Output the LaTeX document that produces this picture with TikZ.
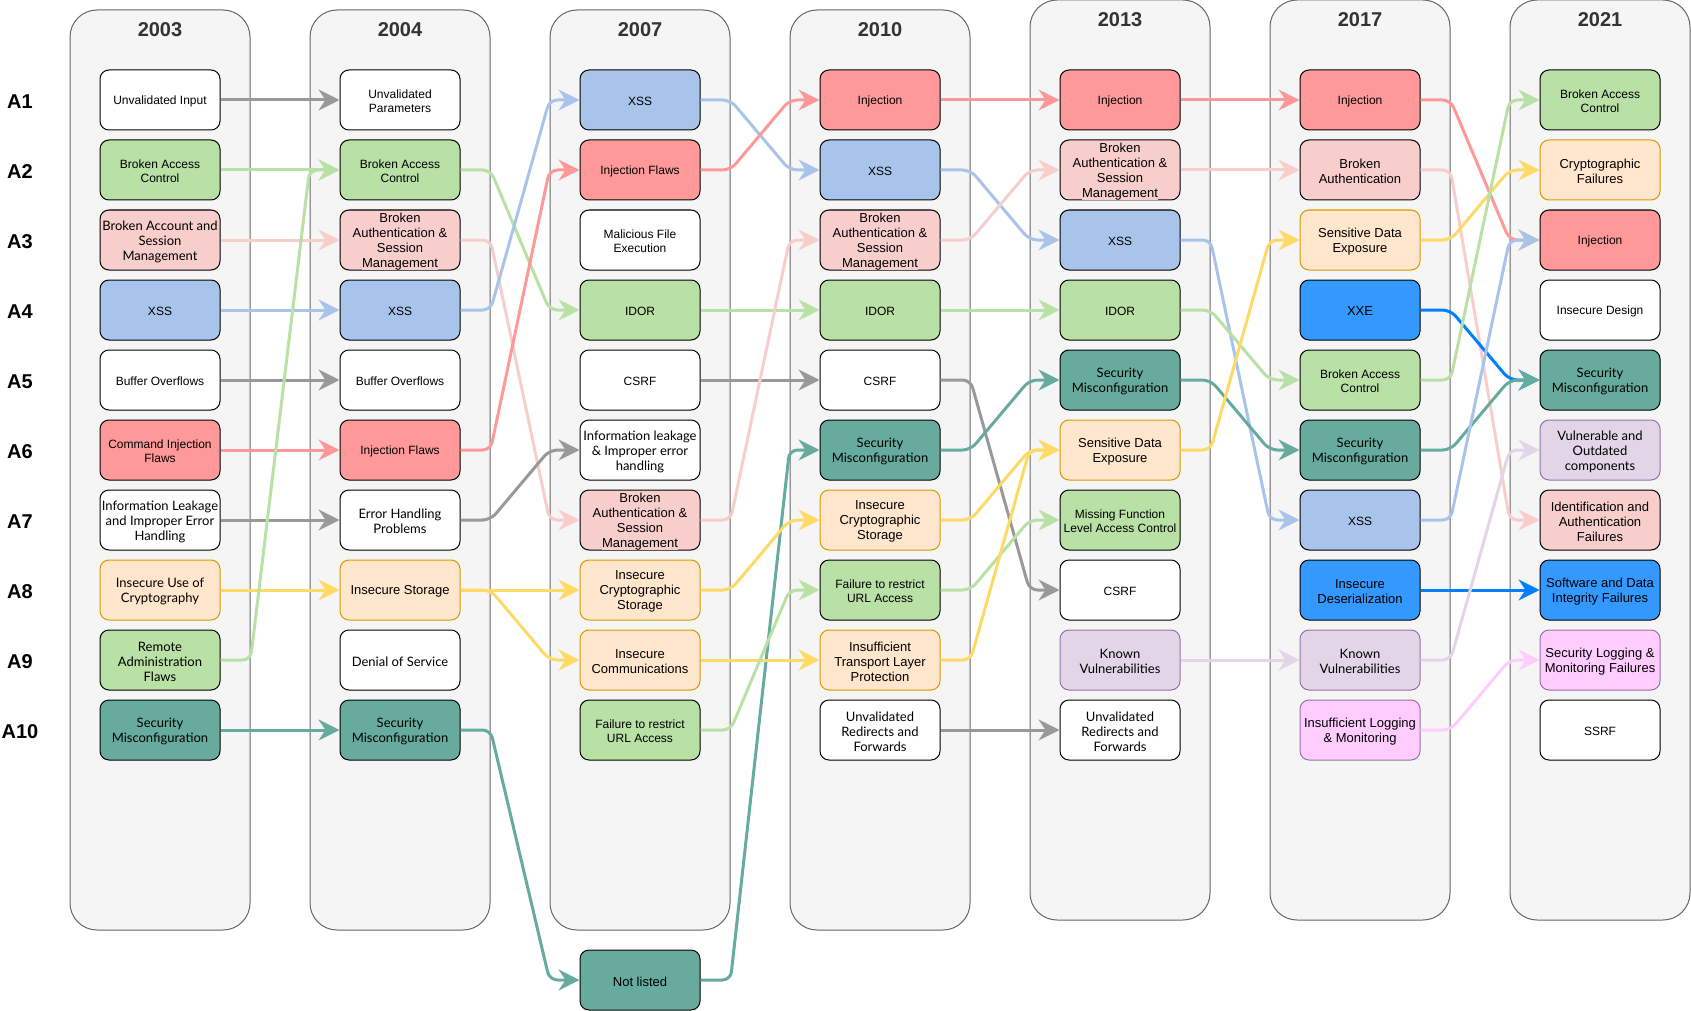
\documentclass[tikz,border=0pt]{standalone}
\usepackage{fontspec}
\setmainfont{Liberation Sans}
\newfontfamily\robf{Lato}
\usetikzlibrary{arrows.meta}
\definecolor{pf}{HTML}{F5F5F5}
\definecolor{pd}{HTML}{666666}
\definecolor{c333}{HTML}{333333}
\definecolor{c222}{HTML}{1E1E1E}
\definecolor{cG}{HTML}{B9E0A5}
\definecolor{cP}{HTML}{F8CECC}
\definecolor{cR}{HTML}{FF9999}
\definecolor{cB}{HTML}{A9C4EB}
\definecolor{cO}{HTML}{FFE6CC}
\definecolor{cOs}{HTML}{D79B00}
\definecolor{cT}{HTML}{67AB9F}
\definecolor{cX}{HTML}{3399FF}
\definecolor{cV}{HTML}{E1D5E7}
\definecolor{cVs}{HTML}{9673A6}
\definecolor{cM}{HTML}{FFCCFF}
\definecolor{lGray}{HTML}{999999}
\definecolor{lYel}{HTML}{FFD966}
\definecolor{lXB}{HTML}{007FFF}
\setlength{\fboxsep}{0.5pt}
\newcommand\fa{\fontsize{12}{14.4}\selectfont}
\newcommand\fb{\fontsize{13}{15}\selectfont}
\newcommand\fr{\robf\fontsize{13}{15}\selectfont\color{c222}}
\newcommand\bx[5]{\node[tbx,#2] (#1) at (#3) {}; \node[txt,font=#4] (#1t) at ([yshift=-1.5pt]#1.center) {#5};}
\newcommand\lk[3]{\draw[conn,#1] (#2.east) -- ++(30,0) -- ([xshift=-30pt]#3.west) -- (#3.west);}
\newcommand\mgmt{\colorbox{cP}{Management}}
\tikzset{
  tbx/.style={draw=black, line width=1pt, rounded corners=9pt, minimum width=120pt, minimum height=60pt, inner sep=0pt, fill=white},
  gbx/.style={fill=cG}, pbx/.style={fill=cP}, rbx/.style={fill=cR}, bbx/.style={fill=cB},
  obx/.style={fill=cO, draw=cOs}, tlbx/.style={fill=cT}, xbx/.style={fill=cX},
  purbx/.style={fill=cV, draw=cVs}, mbx/.style={fill=cM, draw=cVs},
  txt/.style={align=center, inner sep=0pt, text=black},
  panel/.style={fill=pf, draw=pd, line width=1pt, rounded corners=27pt},
  conn/.style={line width=3pt, -{Stealth[length=21pt,width=21pt,inset=7pt]}, rounded corners=8pt},
  yr/.style={font=\fontsize{20}{24}\selectfont\bfseries, text=c333},
  rl/.style={font=\fontsize{20}{24}\selectfont\bfseries, text=black}
}
\begin{document}
\begin{tikzpicture}[x=1pt,y=-1pt]
\path[use as bounding box] (0,0) rectangle (1691,1011);
% panels
\draw[panel] (70,10) rectangle (250,930);
\draw[panel] (310,10) rectangle (490,930);
\draw[panel] (550,10) rectangle (730,930);
\draw[panel] (790,10) rectangle (970,930);
\draw[panel] (1030,0) rectangle (1210,920);
\draw[panel] (1270,0) rectangle (1450,920);
\draw[panel] (1510,0) rectangle (1690,920);
% years
\node[yr] (y03) at (160,30) {2003};
\node[yr] (y04) at (400,30) {2004};
\node[yr] (y07) at (640,30) {2007};
\node[yr] (y10) at (880,30) {2010};
\node[yr] (y13) at (1120,20) {2013};
\node[yr] (y17) at (1360,20) {2017};
\node[yr] (y21) at (1600,20) {2021};
% row labels
\node[rl] (r1) at (20,101.5) {A1};
\node[rl] (r2) at (20,171.5) {A2};
\node[rl] (r3) at (20,241.5) {A3};
\node[rl] (r4) at (20,311.5) {A4};
\node[rl] (r5) at (20,381.5) {A5};
\node[rl] (r6) at (20,451.5) {A6};
\node[rl] (r7) at (20,521.5) {A7};
\node[rl] (r8) at (20,591.5) {A8};
\node[rl] (r9) at (20,661.5) {A9};
\node[rl] (r10) at (20,731.5) {A10};
% 2003
\bx{a1}{}{160,100}{\fa}{Unvalidated Input}
\bx{a2}{gbx}{160,170}{\fa}{Broken Access\\Control}
\bx{a3}{pbx}{160,240}{\fr}{Broken Account and\\Session\\Management}
\bx{a4}{bbx}{160,310}{\fa}{XSS}
\bx{a5}{}{160,380}{\fa}{Buffer Overflows}
\bx{a6}{rbx}{160,450}{\fa}{Command Injection\\Flaws}
\bx{a7}{}{160,520}{\fr}{Information Leakage\\and Improper Error\\Handling}
\bx{a8}{obx}{160,590}{\fr}{Insecure Use of\\Cryptography}
\bx{a9}{gbx}{160,660}{\fr}{Remote\\Administration\\Flaws}
\bx{a10}{tlbx}{160,730}{\fr}{Security\\Misconfiguration}
% 2004
\bx{b1}{}{400,100}{\fa}{Unvalidated\\Parameters}
\bx{b2}{gbx}{400,170}{\fa}{Broken Access\\Control}
\bx{b3}{pbx}{400,240}{\fb}{Broken\\Authentication \&\\Session\\\mgmt}
\bx{b4}{bbx}{400,310}{\fa}{XSS}
\bx{b5}{}{400,380}{\fa}{Buffer Overflows}
\bx{b6}{rbx}{400,450}{\fa}{Injection Flaws}
\bx{b7}{}{400,520}{\fr}{Error Handling\\Problems}
\bx{b8}{obx}{400,590}{\fb}{Insecure Storage}
\bx{b9}{}{400,660}{\fr}{Denial of Service}
\bx{b10}{tlbx}{400,730}{\fr}{Security\\Misconfiguration}
% 2007
\bx{c1}{bbx}{640,100}{\fa}{XSS}
\bx{c2}{rbx}{640,170}{\fa}{Injection Flaws}
\bx{c3}{}{640,240}{\fa}{Malicious File\\Execution}
\bx{c4}{gbx}{640,310}{\fa}{IDOR}
\bx{c5}{}{640,380}{\fa}{CSRF}
\bx{c6}{}{640,450}{\fr}{Information leakage\\\& Improper error\\handling}
\bx{c7}{pbx}{640,520}{\fb}{Broken\\Authentication \&\\Session\\\mgmt}
\bx{c8}{obx}{640,590}{\fb}{Insecure\\Cryptographic\\Storage}
\bx{c9}{obx}{640,660}{\fb}{Insecure\\Communications}
\bx{c10}{gbx}{640,730}{\fa}{Failure to restrict\\URL Access}
\bx{nl}{tlbx}{640,980}{\fb}{Not listed}
% 2010
\bx{d1}{rbx}{880,100}{\fa}{Injection}
\bx{d2}{bbx}{880,170}{\fa}{XSS}
\bx{d3}{pbx}{880,240}{\fb}{Broken\\Authentication \&\\Session\\\mgmt}
\bx{d4}{gbx}{880,310}{\fa}{IDOR}
\bx{d5}{}{880,380}{\fa}{CSRF}
\bx{d6}{tlbx}{880,450}{\fr}{Security\\Misconfiguration}
\bx{d7}{obx}{880,520}{\fb}{Insecure\\Cryptographic\\Storage}
\bx{d8}{gbx}{880,590}{\fa}{Failure to restrict\\URL Access}
\bx{d9}{obx}{880,660}{\fb}{Insufficient\\Transport Layer\\Protection}
\bx{d10}{}{880,730}{\fr}{Unvalidated\\Redirects and\\Forwards}
% 2013
\bx{e1}{rbx}{1120,100}{\fa}{Injection}
\bx{e2}{pbx}{1120,170}{\fb}{Broken\\Authentication \&\\Session\\\mgmt}
\bx{e3}{bbx}{1120,240}{\fa}{XSS}
\bx{e4}{gbx}{1120,310}{\fa}{IDOR}
\bx{e5}{tlbx}{1120,380}{\fr}{Security\\Misconfiguration}
\bx{e6}{obx}{1120,450}{\fb}{Sensitive Data\\Exposure}
\bx{e7}{gbx}{1120,520}{\fa}{Missing Function\\Level Access Control}
\bx{e8}{}{1120,590}{\fa}{CSRF}
\bx{e9}{purbx}{1120,660}{\fr}{Known\\Vulnerabilities}
\bx{e10}{}{1120,730}{\fr}{Unvalidated\\Redirects and\\Forwards}
% 2017
\bx{f1}{rbx}{1360,100}{\fa}{Injection}
\bx{f2}{pbx}{1360,170}{\fb}{Broken\\Authentication}
\bx{f3}{obx}{1360,240}{\fb}{Sensitive Data\\Exposure}
\bx{f4}{xbx}{1360,310}{\fb}{XXE}
\bx{f5}{gbx}{1360,380}{\fa}{Broken Access\\Control}
\bx{f6}{tlbx}{1360,450}{\fr}{Security\\Misconfiguration}
\bx{f7}{bbx}{1360,520}{\fa}{XSS}
\bx{f8}{xbx}{1360,590}{\fb}{Insecure\\Deserialization}
\bx{f9}{purbx}{1360,660}{\fr}{Known\\Vulnerabilities}
\bx{f10}{mbx}{1360,730}{\fb}{Insufficient Logging\\\& Monitoring}
% 2021
\bx{g1}{gbx}{1600,100}{\fa}{Broken Access\\Control}
\bx{g2}{obx}{1600,170}{\fb}{Cryptographic\\Failures}
\bx{g3}{rbx}{1600,240}{\fa}{Injection}
\bx{g4}{}{1600,310}{\fa}{Insecure Design}
\bx{g5}{tlbx}{1600,380}{\fr}{Security\\Misconfiguration}
\bx{g6}{purbx}{1600,450}{\fr}{Vulnerable and\\Outdated\\components}
\bx{g7}{pbx}{1600,520}{\fb}{Identification and\\Authentication\\Failures}
\bx{g8}{xbx}{1600,590}{\fb}{Software and Data\\Integrity Failures}
\bx{g9}{mbx}{1600,660}{\fb}{Security Logging \&\\Monitoring Failures}
\bx{g10}{}{1600,730}{\fa}{SSRF}
% connectors 2003 -> 2004
\lk{lGray}{a1}{b1}
\lk{cG}{a2}{b2}
\lk{cP}{a3}{b3}
\lk{cB}{a4}{b4}
\lk{lGray}{a5}{b5}
\lk{cR}{a6}{b6}
\lk{lGray}{a7}{b7}
\lk{lYel}{a8}{b8}
\lk{cG}{a9}{b2}
\lk{cT}{a10}{b10}
% 2004 -> 2007
\lk{cG}{b2}{c4}
\lk{cP}{b3}{c7}
\lk{cB}{b4}{c1}
\lk{cR}{b6}{c2}
\lk{lGray}{b7}{c6}
\lk{lYel}{b8}{c8}
\lk{lYel}{b8}{c9}
\lk{cT}{b10}{nl}
\lk{cT}{nl}{d6}
% 2007 -> 2010
\lk{cB}{c1}{d2}
\lk{cR}{c2}{d1}
\lk{cG}{c4}{d4}
\lk{lGray}{c5}{d5}
\lk{cP}{c7}{d3}
\lk{lYel}{c8}{d7}
\lk{lYel}{c9}{d9}
\lk{cG}{c10}{d8}
% 2010 -> 2013
\lk{cR}{d1}{e1}
\lk{cB}{d2}{e3}
\lk{cP}{d3}{e2}
\lk{cG}{d4}{e4}
\lk{lGray}{d5}{e8}
\lk{cT}{d6}{e5}
\lk{lYel}{d7}{e6}
\lk{cG}{d8}{e7}
\lk{lYel}{d9}{e6}
\lk{lGray}{d10}{e10}
% 2013 -> 2017
\lk{cR}{e1}{f1}
\lk{cP}{e2}{f2}
\lk{cB}{e3}{f7}
\lk{cG}{e4}{f5}
\lk{cT}{e5}{f6}
\lk{lYel}{e6}{f3}
\lk{cV}{e9}{f9}
% 2017 -> 2021
\lk{cR}{f1}{g3}
\lk{cP}{f2}{g7}
\lk{lYel}{f3}{g2}
\lk{lXB}{f4}{g5}
\lk{cG}{f5}{g1}
\lk{cT}{f6}{g5}
\lk{cB}{f7}{g3}
\lk{lXB}{f8}{g8}
\lk{cV}{f9}{g6}
\lk{cM}{f10}{g9}
\end{tikzpicture}
\end{document}
